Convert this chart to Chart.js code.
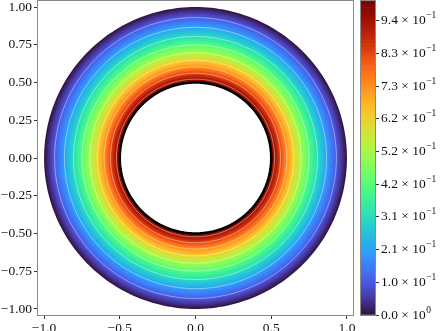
<!DOCTYPE html>
<html>
<head>
<meta charset="utf-8">
<script src="https://cdn.jsdelivr.net/npm/chart.js@4.4.1/dist/chart.umd.min.js"></script>
<style>
  html, body { margin: 0; padding: 0; background: #fff; }
  #wrap { position: relative; width: 442px; height: 331px; }
  #wrap canvas { position: absolute; left: 0; top: 0; }
</style>
</head>
<body>
<div id="wrap">
  <canvas id="field" width="442" height="331"></canvas>
  <canvas id="cbar" width="442" height="331"></canvas>
</div>
<script>
// radius of each contour level, from value 0 (outer rim) to value 1 (inner rim)
const levelRadii = [
  1.00000, 0.99281, 0.98566, 0.97857, 0.97153, 0.96454, 0.95760, 0.95071,
  0.94387, 0.93708, 0.93034, 0.92365, 0.91700, 0.91040, 0.90385, 0.89735,
  0.89090, 0.88449, 0.87813, 0.87181, 0.86554, 0.85931, 0.85313, 0.84699,
  0.84090, 0.83485, 0.82884, 0.82288, 0.81696, 0.81108, 0.80525, 0.79946,
  0.79370, 0.78799, 0.78232, 0.77669, 0.77111, 0.76556, 0.76005, 0.75458,
  0.74915, 0.74376, 0.73841, 0.73310, 0.72783, 0.72259, 0.71739, 0.71223,
  0.70711, 0.70202, 0.69697, 0.69196, 0.68698, 0.68204, 0.67713, 0.67226,
  0.66742, 0.66262, 0.65785, 0.65312, 0.64842, 0.64376, 0.63912, 0.63452,
  0.62996, 0.62543, 0.62093, 0.61646, 0.61202, 0.60762, 0.60325, 0.59891,
  0.59460, 0.59032, 0.58608, 0.58186, 0.57767, 0.57351, 0.56939, 0.56529,
  0.56123, 0.55719, 0.55318, 0.54920, 0.54525, 0.54133, 0.53743, 0.53356,
  0.52973, 0.52592, 0.52213, 0.51837, 0.51465, 0.51095, 0.50727, 0.50362,
  0.50000
];
// levels drawn as thin white contour lines (indices into levelRadii)
const lineLevels = [10, 20, 30, 40, 50, 60, 70, 80, 90];
const holeRadius = 0.5;

const xTicks = [-1, -0.5, 0, 0.5, 1];
const yTicks = [-1, -0.75, -0.5, -0.25, 0, 0.25, 0.5, 0.75, 1];
const cbarTicks = [0, 0.1042, 0.2083, 0.3125, 0.4167, 0.5208, 0.625, 0.7292, 0.8333, 0.9375];
const cbarMantissas = ['0.0', '1.0', '2.1', '3.1', '4.2', '5.2', '6.2', '7.3', '8.3', '9.4'];
const cbarExponents = ['0', '\u22121', '\u22121', '\u22121', '\u22121', '\u22121', '\u22121', '\u22121', '\u22121', '\u22121'];

const FAMILY = "'Liberation Serif', 'DejaVu Serif', serif";
const SIZE = 13.5;
Chart.defaults.font.family = FAMILY;
Chart.defaults.font.size = SIZE;
Chart.defaults.color = '#111';

// turbo colormap (polynomial fit, ends pinned to the table values)
function turboPoly(x) {
  const h = c => c[0] + x * (c[1] + x * (c[2] + x * (c[3] + x * (c[4] + x * c[5]))));
  return [
    h([0.13572138, 4.61539260, -42.66032258, 132.13108234, -152.94239396, 59.28637943]),
    h([0.09140261, 2.19418839, 4.84296658, -14.18503333, 4.27729857, 2.82956604]),
    h([0.10667330, 12.64194608, -60.58204836, 110.36276771, -89.90310912, 27.34824973])
  ].map(v => Math.max(0, Math.min(255, v * 255)));
}
function mix(a, b, t) { return a.map((v, i) => v + (b[i] - v) * t); }
function turbo(x) {
  let c;
  if (x < 0.05) c = mix([48, 18, 59], turboPoly(0.05), x / 0.05);
  else if (x > 0.95) c = mix([152, 15, 2], [122, 4, 3], (x - 0.95) / 0.05);
  else if (x > 0.9) c = mix(turboPoly(0.9), [152, 15, 2], (x - 0.9) / 0.05);
  else c = turboPoly(x);
  return 'rgb(' + c.map(Math.round).join(',') + ')';
}

function arc(r, a0, a1, n) {
  const pts = [];
  for (let i = 0; i <= n; i++) {
    const a = a0 + (a1 - a0) * i / n;
    pts.push({x: r * Math.cos(a), y: r * Math.sin(a)});
  }
  return pts;
}

const nBands = levelRadii.length - 1;
const step = 1 / nBands;

// borderDash [1, 0] is solid but keeps Chart.js off its pixel-merging fast path
const datasets = [];
const plain = {pointRadius: 0, borderColor: 'rgba(0,0,0,0)', borderWidth: 0, borderDash: [1, 0]};
// inner rim
datasets.push({data: arc(holeRadius, 0, 2 * Math.PI, 240), borderColor: '#000', borderWidth: 2.5,
  borderDash: [1, 0], pointRadius: 0, fill: false, order: 0});
// contour lines
lineLevels.forEach(k => {
  datasets.push({data: arc(levelRadii[k], 0, 2 * Math.PI, 240), borderColor: 'rgba(255,255,255,0.55)',
    borderWidth: 0.8, borderDash: [1, 0], pointRadius: 0, fill: false, order: 1});
});
// filled disks, largest underneath; last one is the white hole
levelRadii.forEach((r, j) => {
  const col = j < nBands ? turbo((j + 0.5) * step) : '#fff';
  const order = 300 - j;
  datasets.push({...plain, data: arc(r, Math.PI, 0, 120), fill: '+1', backgroundColor: col, order});
  datasets.push({...plain, data: arc(r, Math.PI, 2 * Math.PI, 120), fill: false, order});
});

const frame = {
  id: 'frame',
  afterDraw(chart) {
    const a = chart.chartArea, ctx = chart.ctx;
    ctx.save();
    ctx.strokeStyle = '#8a8a8a';
    ctx.lineWidth = 1;
    ctx.strokeRect(Math.round(a.left) - 0.5, Math.round(a.top) - 0.5,
      Math.round(a.right - a.left) + 1, Math.round(a.bottom - a.top) + 1);
    ctx.restore();
  }
};

const noPad = s => { s.paddingTop = 0; s.paddingBottom = 0; s.paddingLeft = 0; s.paddingRight = 0; };
const fmt = d => v => (v < 0 ? '\u2212' : '') + Math.abs(v).toFixed(d);

new Chart(document.getElementById('field'), {
  type: 'scatter',
  data: {datasets},
  options: {
    responsive: false,
    animation: false,
    events: [],
    showLine: true,
    layout: {padding: {top: 1, right: 89, left: 0, bottom: 0}},
    plugins: {legend: {display: false}, tooltip: {enabled: false}},
    scales: {
      x: {
        type: 'linear', min: -1.04, max: 1.04,
        afterBuildTicks: s => { s.ticks = xTicks.map(v => ({value: v})); },
        afterFit: s => { s.height = 16; noPad(s); },
        grid: {drawOnChartArea: false, drawTicks: true, tickLength: 4, tickColor: '#333'},
        border: {display: false},
        ticks: {padding: 1, maxRotation: 0, autoSkip: false, callback: fmt(1)}
      },
      y: {
        type: 'linear', min: -1.04, max: 1.04,
        afterBuildTicks: s => { s.ticks = yTicks.map(v => ({value: v})); },
        afterFit: s => { s.width = 38; noPad(s); },
        grid: {drawOnChartArea: false, drawTicks: true, tickLength: 4, tickColor: '#333'},
        border: {display: false},
        ticks: {padding: 2, autoSkip: false, callback: fmt(2)}
      }
    }
  },
  plugins: [frame]
});

// colorbar labels: mantissa × 10 with a raised exponent
const cbarText = {
  id: 'cbarText',
  afterDraw(chart) {
    const s = chart.scales.y, ctx = chart.ctx;
    ctx.save();
    ctx.fillStyle = '#111';
    ctx.textAlign = 'left';
    ctx.textBaseline = 'middle';
    cbarTicks.forEach((v, i) => {
      const y = s.getPixelForValue(v);
      let x = s.left + 6;
      ctx.font = SIZE + 'px ' + FAMILY;
      const main = cbarMantissas[i] + ' \u00d7 10';
      ctx.fillText(main, x, y);
      x += ctx.measureText(main).width + 0.5;
      ctx.font = '9.5px ' + FAMILY;
      ctx.fillText(cbarExponents[i], x, y - 5);
    });
    ctx.restore();
  }
};

const bandSizes = levelRadii.slice(1).map(() => step);
new Chart(document.getElementById('cbar'), {
  type: 'bar',
  data: {
    labels: ['cb'],
    datasets: bandSizes.map((v, j) => ({
      data: [v], backgroundColor: turbo((j + 0.5) * step), borderWidth: 0,
      barPercentage: 1, categoryPercentage: 1, stack: 'cb'
    }))
  },
  options: {
    responsive: false,
    animation: false,
    events: [],
    layout: {padding: {top: 1, right: 0, left: 361, bottom: 16}},
    plugins: {legend: {display: false}, tooltip: {enabled: false}},
    scales: {
      x: {display: false, stacked: true},
      y: {
        position: 'right', stacked: true, min: 0, max: 1,
        afterBuildTicks: s => { s.ticks = cbarTicks.map(v => ({value: v})); },
        afterFit: s => { s.width = 67; noPad(s); },
        grid: {drawOnChartArea: false, drawTicks: true, tickLength: 4, tickColor: '#333'},
        border: {display: false},
        ticks: {display: false}
      }
    }
  },
  plugins: [frame, cbarText]
});
</script>
</body>
</html>
